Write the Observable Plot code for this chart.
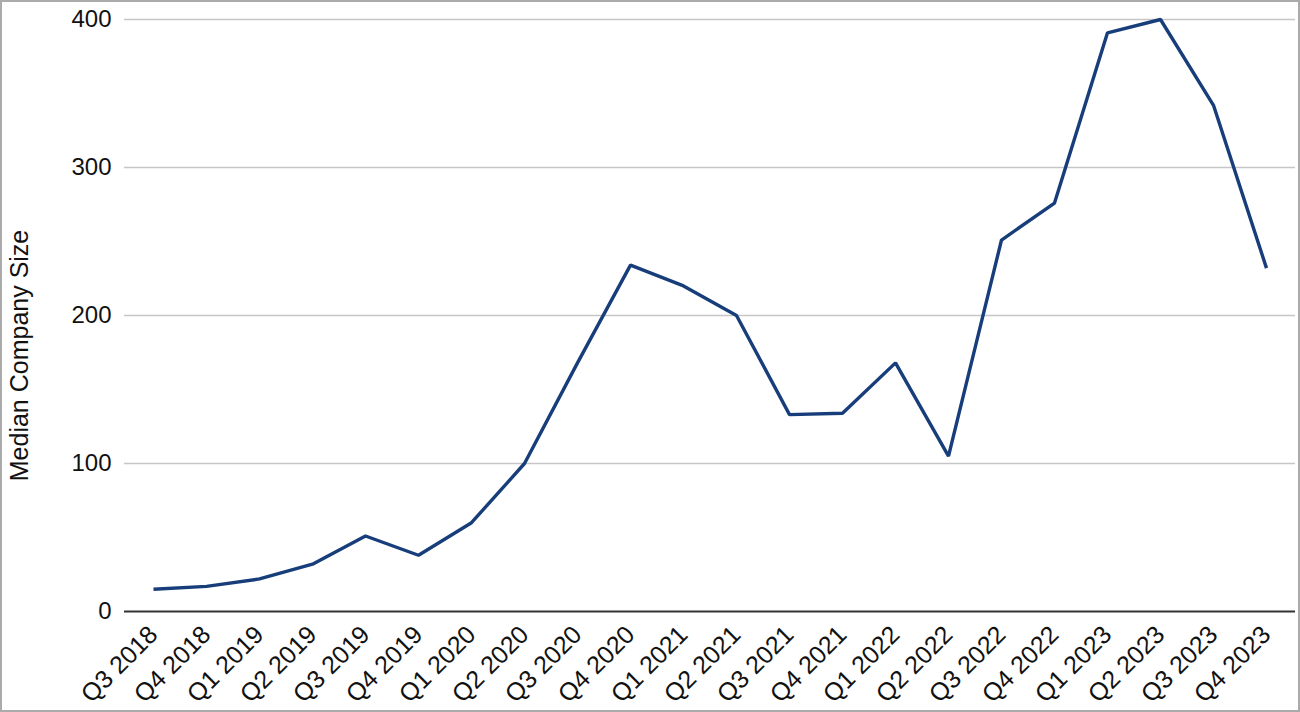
<!DOCTYPE html>
<html>
<head>
<meta charset="utf-8">
<script src="https://cdn.jsdelivr.net/npm/d3@7"></script>
<script src="https://cdn.jsdelivr.net/npm/@observablehq/plot@0.6"></script>
<style>
  html, body { margin: 0; padding: 0; background: #fff; }
  #chart svg { display: block; outline: 2px solid #ababab; outline-offset: -2px; }
</style>
</head>
<body>
<div id="chart"></div>
<script>
const quarters = ["Q3 2018","Q4 2018","Q1 2019","Q2 2019","Q3 2019","Q4 2019","Q1 2020","Q2 2020","Q3 2020","Q4 2020","Q1 2021","Q2 2021","Q3 2021","Q4 2021","Q1 2022","Q2 2022","Q3 2022","Q4 2022","Q1 2023","Q2 2023","Q3 2023","Q4 2023"];
const medianSize = [15, 17, 22, 32, 51, 38, 60, 100, 168, 234, 220, 200, 133, 134, 168, 105, 251, 276, 391, 400, 342, 232];
const yTicks = [0, 100, 200, 300, 400];
const yLabel = "Median Company Size";

const data = quarters.map((q, i) => ({quarter: q, value: medianSize[i]}));

const chart = Plot.plot({
  width: 1300,
  height: 712,
  marginLeft: 124,
  marginRight: 5,
  marginTop: 19,
  marginBottom: 101,
  style: {fontFamily: "'Liberation Sans', Arial, sans-serif", fontSize: "24px", color: "#111", background: "#fff"},
  x: {type: "point", domain: quarters, padding: 0.5, label: null},
  y: {domain: [0, 400], label: null},
  marks: [
    Plot.gridY(yTicks.filter(d => d > 0), {stroke: "#c6c6c6", strokeOpacity: 1, strokeWidth: 1.5}),
    Plot.ruleY([0], {stroke: "#333", strokeWidth: 2}),
    Plot.axisY(yTicks, {tickSize: 0, tickPadding: 13, fontSize: 24, label: null}),
    Plot.text([yLabel], {frameAnchor: "left", textAnchor: "middle", rotate: -90, dx: -114, dy: 40, fontSize: 25, lineAnchor: "top", fill: "#111"}),
    Plot.axisX({tickSize: 0, tickRotate: -45, tickPadding: 19, fontSize: 25}),
    Plot.line(data, {x: "quarter", y: "value", stroke: "#173e7a", strokeWidth: 3.4, strokeLinejoin: "miter", strokeLinecap: "butt"})
  ]
});
document.getElementById("chart").appendChild(chart);
</script>
</body>
</html>
